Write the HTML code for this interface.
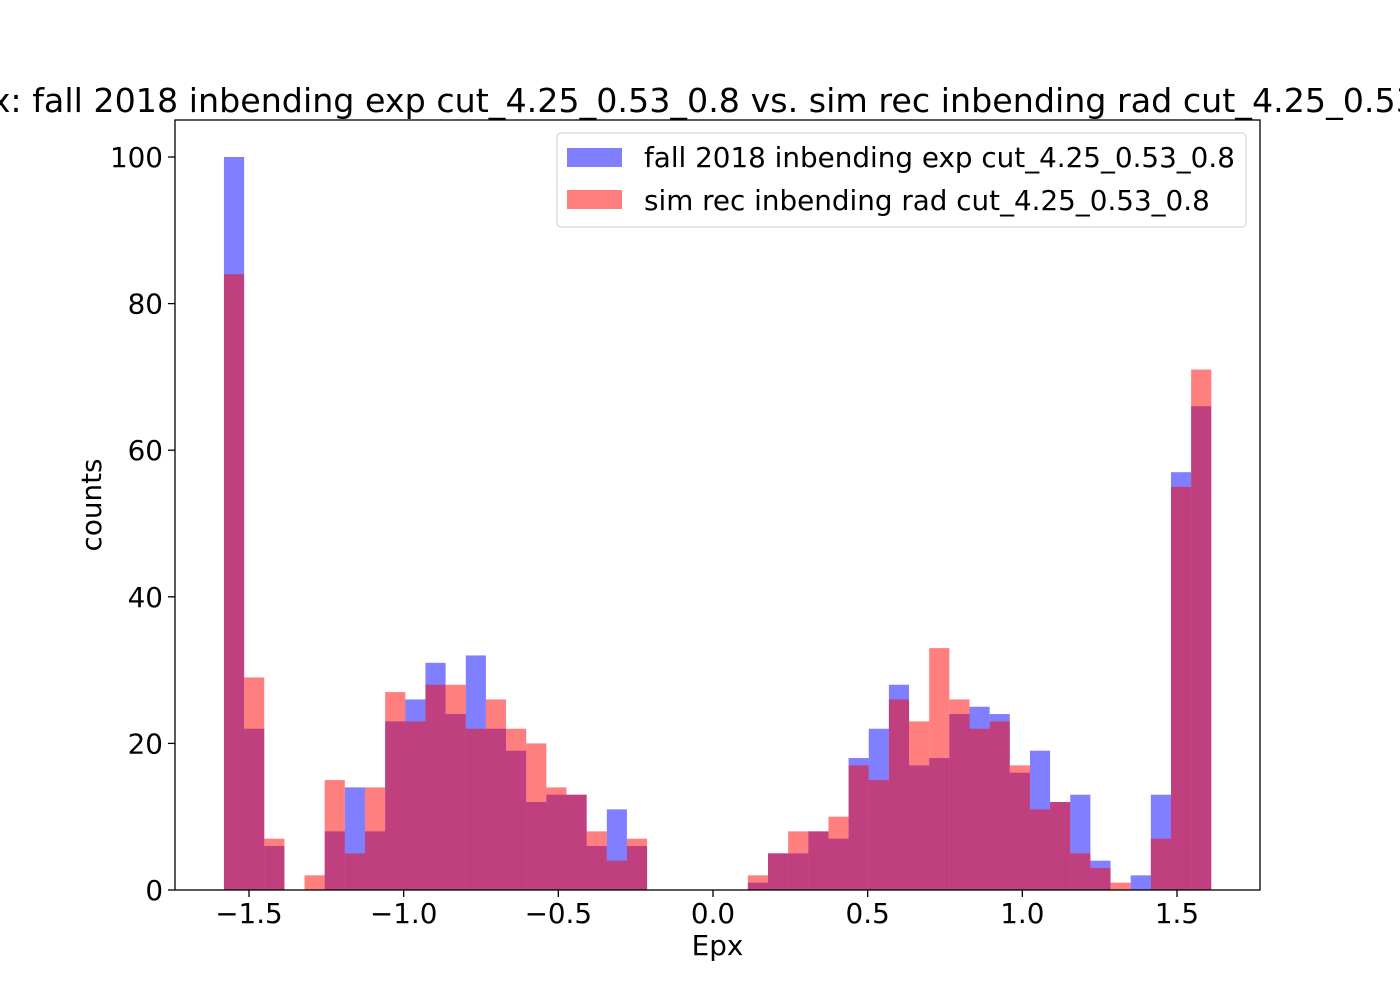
<!DOCTYPE html>
<html><head><meta charset="utf-8"><style>
body{margin:0;background:#fff;width:1400px;height:1000px;overflow:hidden}
svg text{font-family:"DejaVu Sans","Liberation Sans",sans-serif;fill:#000}
</style></head><body>
<svg id="chart" width="1400" height="1000" xmlns="http://www.w3.org/2000/svg">
<text x="717.5" y="112" font-size="33.3" text-anchor="middle">Epx: fall 2018 inbending exp cut_4.25_0.53_0.8 vs. sim rec inbending rad cut_4.25_0.53_0.8</text>
<g id="bars"></g>
<rect x="175" y="120" width="1085" height="770" fill="none" stroke="#000" stroke-width="1.3"/>
<g id="xticks"></g><g id="yticks"></g>
<text x="717.5" y="955" font-size="27.8" text-anchor="middle">Epx</text>
<text x="0" y="0" font-size="27.8" text-anchor="middle" transform="translate(101,505) rotate(-90)">counts</text>
<g>
<rect x="557" y="133" width="689" height="94" rx="4" fill="#fff" fill-opacity="0.8" stroke="#ccc"/>
<rect x="567" y="148" width="55" height="19" fill="#0000ff" fill-opacity="0.5"/>
<text x="644" y="167" font-size="27.8">fall 2018 inbending exp cut_4.25_0.53_0.8</text>
<rect x="567" y="190" width="55" height="19" fill="#ff0000" fill-opacity="0.5"/>
<text x="644" y="210" font-size="27.8">sim rec inbending rad cut_4.25_0.53_0.8</text>
</g>
</svg>
<script>
const binStart = -1.581;
const binWidth = 0.06514;
const expCounts = [100,22,6,0,0,8,14,8,23,26,31,24,32,22,19,12,13,13,6,11,6,0,0,0,0,0,1,5,5,8,7,18,22,28,17,18,24,25,24,16,19,12,13,4,0,2,13,57,66];
const simCounts = [84,29,7,0,2,15,5,14,27,23,28,28,22,26,22,20,14,13,8,4,7,0,0,0,0,0,2,5,8,8,10,17,15,26,23,33,26,22,23,17,11,12,5,3,1,0,7,55,71];
const xTicks = [-1.5,-1.0,-0.5,0.0,0.5,1.0,1.5];
const xTickLabels = ["\u22121.5","\u22121.0","\u22120.5","0.0","0.5","1.0","1.5"];
const yTicks = [0,20,40,60,80,100];
const yTickLabels = ["0","20","40","60","80","100"];

const NS="http://www.w3.org/2000/svg";
const xs = v => 713 + (v)*309.33;
const ys = v => 890 - v*7.33;
function mk(tag,attrs,parent){const e=document.createElementNS(NS,tag);for(const k in attrs)e.setAttribute(k,attrs[k]);parent.appendChild(e);return e;}
const bars=document.getElementById('bars');
function drawSeries(arr,color,name){
  arr.forEach((c,i)=>{
    if(c<=0)return;
    const x0=xs(binStart+i*binWidth), x1=xs(binStart+(i+1)*binWidth);
    const r=mk('rect',{x:x0,y:ys(c),width:x1-x0,height:ys(0)-ys(c),fill:color,'fill-opacity':0.5},bars);
    
    
  });
}
drawSeries(expCounts,'#0000ff','exp');
drawSeries(simCounts,'#ff0000','sim');
const xt=document.getElementById('xticks');
xTicks.forEach((v,i)=>{
  const l=mk('line',{x1:xs(v),x2:xs(v),y1:890,y2:897,stroke:'#000','stroke-width':1.3},xt);
  
  
  const t=mk('text',{x:xs(v),y:923,'font-size':27.8,'text-anchor':'middle'},xt);
  t.textContent=xTickLabels[i];
  
  
});
const yt=document.getElementById('yticks');
yTicks.forEach((v,i)=>{
  const l=mk('line',{x1:168,x2:175,y1:ys(v),y2:ys(v),stroke:'#000','stroke-width':1.3},yt);
  
  
  const t=mk('text',{x:163,y:ys(v)+10,'font-size':27.8,'text-anchor':'end'},yt);
  t.textContent=yTickLabels[i];
  
  
});
</script>
</body></html>
